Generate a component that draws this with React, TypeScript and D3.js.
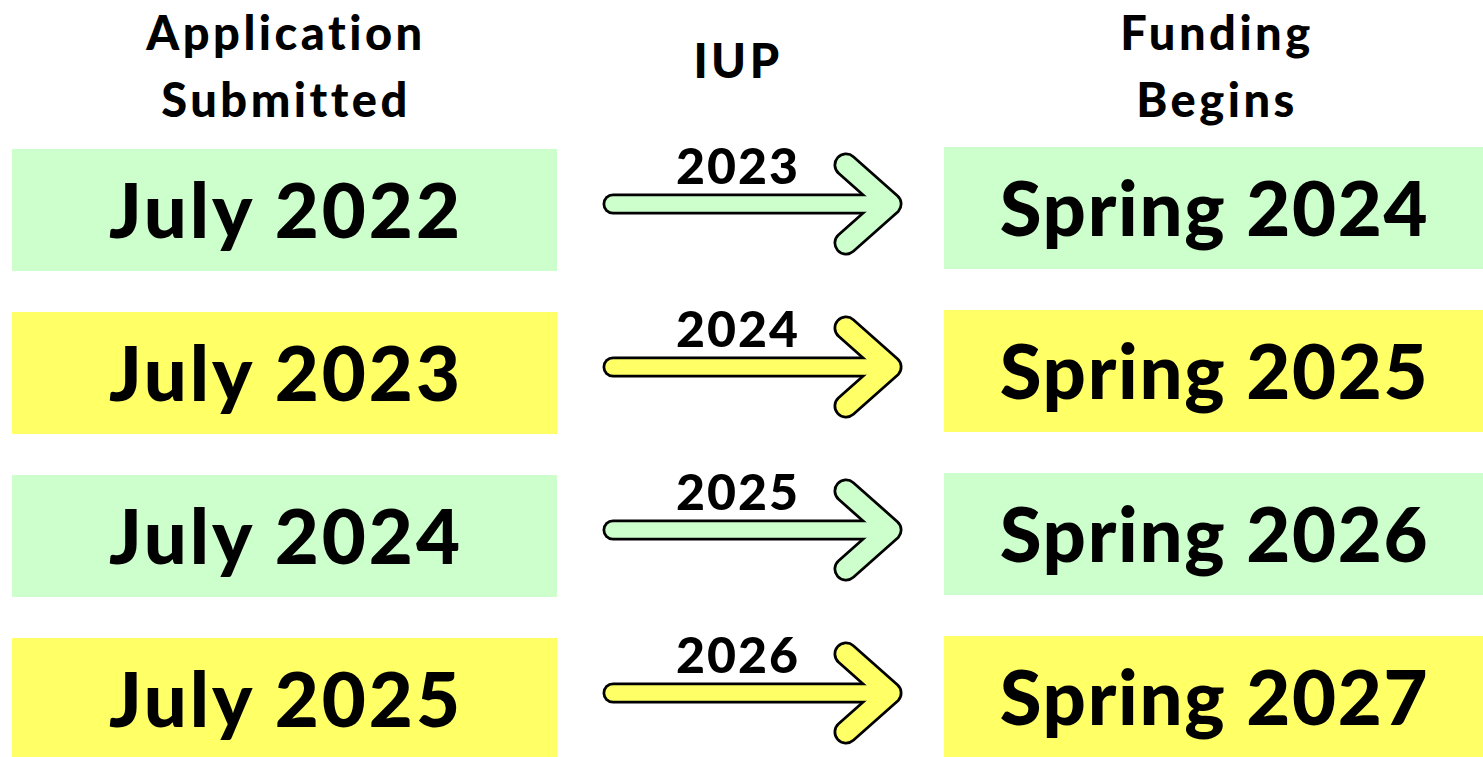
import * as d3 from "d3";

const applied = ["July 2022", "July 2023", "July 2024", "July 2025"];
const iupYears = ["2023", "2024", "2025", "2026"];
const funding = ["Spring 2024", "Spring 2025", "Spring 2026", "Spring 2027"];
const rowColors = ["#ccffcc", "#ffff66", "#ccffcc", "#ffff66"];

const W = 1483;
const H = 757;
const FONT = "Lato, 'Noto Sans', sans-serif";

export default function App() {
  // row tops for the left column; right column sits 2px higher
  const rowY = d3.scaleLinear().domain([0, applied.length - 1]).range([149, 638]);
  const boxH = 122;
  const leftX = d3.scaleLinear().domain([0, 1]).range([12, 557]);
  const rightX = d3.scaleLinear().domain([0, 1]).range([944, 1483]);
  const arrowX = d3.scaleLinear().domain([0, 1]).range([613, 890]);

  const arrowPath = (cy: number) => {
    const x0 = arrowX(0);
    const x1 = arrowX(1);
    return {
      shaft: `M${x0},${cy}L${x1},${cy}`,
      head: `M${x1 - 44},${cy - 39}L${x1},${cy}L${x1 - 44},${cy + 39}`,
    };
  };

  return (
    <svg
      width={W}
      height={H}
      style={{ position: "absolute", left: 0, top: 0, background: "#fff" }}
      fontFamily={FONT}
      fontWeight={900}
    >
      {/* column headers */}
      <g textAnchor="middle" fontSize={47} fill="#000" letterSpacing={3.5}>
        <text x={286} y={50}>Application</text>
        <text x={286} y={117}>Submitted</text>
        <text x={738} y={78}>IUP</text>
        <text x={1217} y={50}>Funding</text>
        <text x={1217} y={117}>Begins</text>
      </g>

      {applied.map((d, i) => {
        const y = rowY(i);
        const cy = y + boxH / 2 - 6;
        const a = arrowPath(cy);
        return (
          <g key={d}>
            <rect x={leftX(0)} y={y} width={leftX(1) - leftX(0)} height={boxH} fill={rowColors[i]} />
            <text
              x={(leftX(0) + leftX(1)) / 2 + 1.5}
              y={y + boxH / 2 + 28}
              textAnchor="middle"
              fontSize={76}
              letterSpacing={3}
            >
              {d}
            </text>
            <rect x={rightX(0)} y={y - 2} width={rightX(1) - rightX(0)} height={boxH} fill={rowColors[i]} />
            <text
              x={(rightX(0) + rightX(1)) / 2 + 1}
              y={y - 2 + boxH / 2 + 28}
              textAnchor="middle"
              fontSize={76}
              letterSpacing={1.7}
            >
              {funding[i]}
            </text>
            <g fill="none" strokeLinecap="round" strokeLinejoin="round">
              <path d={a.shaft} stroke="#000" strokeWidth={21} />
              <path d={a.head} stroke="#000" strokeWidth={25} />
              <path d={a.shaft} stroke={rowColors[i]} strokeWidth={15.5} />
              <path d={a.head} stroke={rowColors[i]} strokeWidth={19.5} />
            </g>
            <text x={738} y={cy - 20} textAnchor="middle" fontSize={50} letterSpacing={2}>
              {iupYears[i]}
            </text>
          </g>
        );
      })}
    </svg>
  );
}
